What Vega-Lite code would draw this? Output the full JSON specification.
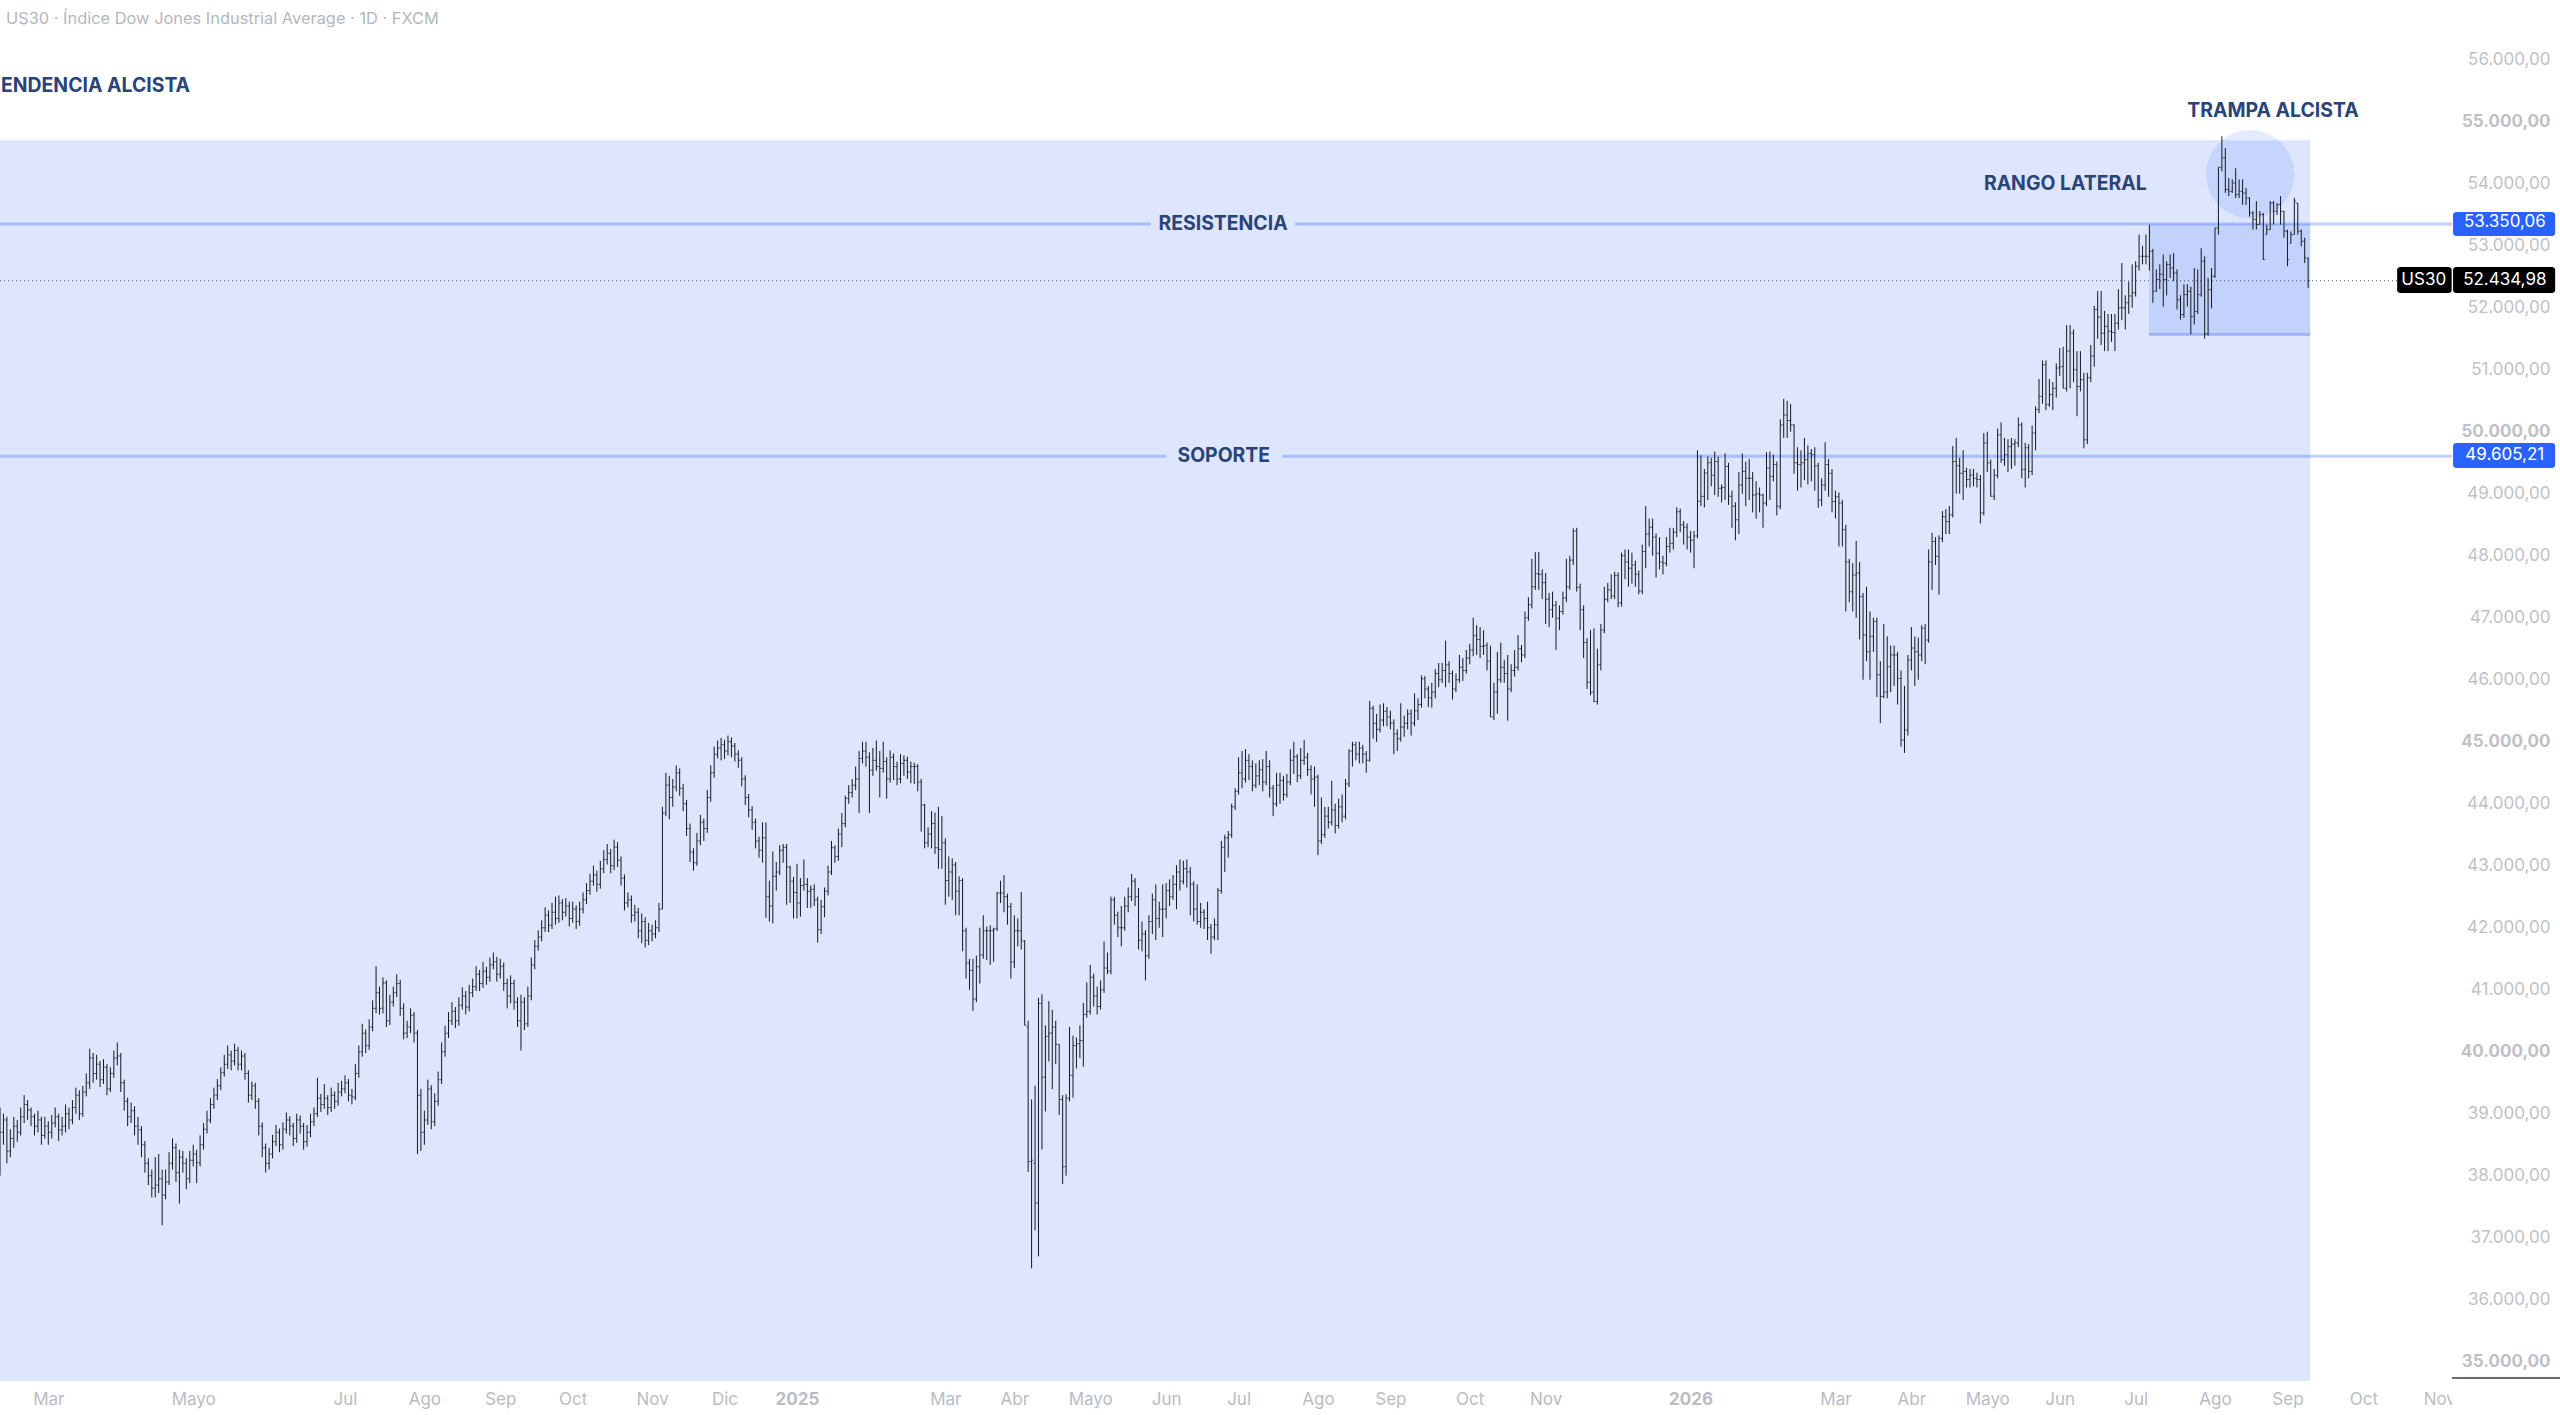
{
"$schema":"https://vega.github.io/schema/vega-lite/v6.json",
"width":2560,"height":1415,"padding":0,"autosize":"none","background":"white",
"config":{"view":{"stroke":null},"font":"Inter"},
"resolve":{"axis":{"x":"independent","y":"independent"}},
"datasets":{"bars":[
{"d":0,"o":38900,"h":39100,"l":38000,"c":38700},{"d":1,"o":38700,"h":39000,"l":38500,"c":38900},{"d":2,"o":38900,"h":38950,"l":38200,"c":38400},{"d":3,"o":38400,"h":38750,"l":38300,"c":38600},{"d":4,"o":38600,"h":38950,"l":38450,"c":38800},{"d":5,"o":38800,"h":38900,"l":38550,"c":38700},{"d":6,"o":38700,"h":39100,"l":38650,"c":38950},{"d":7,"o":38950,"h":39300,"l":38850,"c":39150},{"d":8,"o":39150,"h":39220,"l":38900,"c":39060},{"d":9,"o":39060,"h":39100,"l":38800,"c":38950},{"d":10,"o":38950,"h":39000,"l":38650,"c":38800},{"d":11,"o":38800,"h":39050,"l":38700,"c":38900},{"d":12,"o":38900,"h":38950,"l":38500,"c":38650},{"d":13,"o":38650,"h":38950,"l":38600,"c":38800},{"d":14,"o":38800,"h":38880,"l":38500,"c":38700},{"d":15,"o":38700,"h":38980,"l":38600,"c":38850},{"d":16,"o":38850,"h":39100,"l":38780,"c":38950},{"d":17,"o":38950,"h":39000,"l":38560,"c":38740},{"d":18,"o":38740,"h":38950,"l":38650,"c":38800},
{"d":19,"o":38800,"h":39150,"l":38700,"c":39000},{"d":20,"o":39000,"h":39100,"l":38750,"c":38900},{"d":21,"o":38900,"h":39220,"l":38830,"c":39100},{"d":22,"o":39100,"h":39420,"l":39000,"c":39300},{"d":23,"o":39300,"h":39380,"l":38900,"c":39000},{"d":24,"o":39000,"h":39450,"l":38950,"c":39350},{"d":25,"o":39350,"h":39650,"l":39280,"c":39500},{"d":26,"o":39500,"h":40050,"l":39400,"c":39900},{"d":27,"o":39900,"h":39980,"l":39500,"c":39650},{"d":28,"o":39650,"h":39950,"l":39550,"c":39800},{"d":29,"o":39800,"h":39850,"l":39430,"c":39550},{"d":30,"o":39550,"h":39880,"l":39480,"c":39750},{"d":31,"o":39750,"h":39800,"l":39300,"c":39400},{"d":32,"o":39400,"h":39750,"l":39350,"c":39650},{"d":33,"o":39650,"h":40020,"l":39580,"c":39900},{"d":34,"o":39900,"h":40150,"l":39780,"c":39930},
{"d":35,"o":39930,"h":39980,"l":39350,"c":39500},{"d":36,"o":39500,"h":39550,"l":39050,"c":39200},{"d":37,"o":39200,"h":39260,"l":38800,"c":38950},{"d":38,"o":38950,"h":39180,"l":38850,"c":39050},{"d":39,"o":39050,"h":39120,"l":38650,"c":38800},{"d":40,"o":38800,"h":38950,"l":38500,"c":38740},{"d":41,"o":38740,"h":38800,"l":38300,"c":38500},{"d":42,"o":38500,"h":38560,"l":38050,"c":38200},{"d":43,"o":38200,"h":38280,"l":37850,"c":38000},{"d":44,"o":38000,"h":38100,"l":37650,"c":37800},{"d":45,"o":37800,"h":38300,"l":37650,"c":37850},{"d":46,"o":37850,"h":38350,"l":37720,"c":37950},{"d":47,"o":37950,"h":38100,"l":37200,"c":37690},
{"d":48,"o":37690,"h":38100,"l":37620,"c":37900},{"d":49,"o":37900,"h":38380,"l":37850,"c":38200},{"d":50,"o":38200,"h":38600,"l":38100,"c":38450},{"d":51,"o":38450,"h":38520,"l":37900,"c":38050},{"d":52,"o":38050,"h":38420,"l":37550,"c":38300},{"d":53,"o":38300,"h":38400,"l":38050,"c":38200},{"d":54,"o":38200,"h":38280,"l":37780,"c":37950},{"d":55,"o":37950,"h":38400,"l":37880,"c":38250},{"d":56,"o":38250,"h":38500,"l":38150,"c":38350},{"d":57,"o":38350,"h":38420,"l":37880,"c":38210},
{"d":58,"o":38210,"h":38650,"l":38150,"c":38500},{"d":59,"o":38500,"h":38850,"l":38420,"c":38750},{"d":60,"o":38750,"h":39050,"l":38680,"c":38900},{"d":61,"o":38900,"h":39250,"l":38850,"c":39150},{"d":62,"o":39150,"h":39420,"l":39080,"c":39300},{"d":63,"o":39300,"h":39560,"l":39220,"c":39450},{"d":64,"o":39450,"h":39750,"l":39380,"c":39660},{"d":65,"o":39660,"h":39950,"l":39600,"c":39800},{"d":66,"o":39800,"h":40100,"l":39720,"c":39950},{"d":67,"o":39950,"h":40020,"l":39700,"c":39850},{"d":68,"o":39850,"h":40130,"l":39780,"c":40020},{"d":69,"o":40020,"h":40080,"l":39700,"c":39800},{"d":70,"o":39800,"h":40020,"l":39700,"c":39930},
{"d":71,"o":39930,"h":39980,"l":39550,"c":39650},{"d":72,"o":39650,"h":39700,"l":39180,"c":39300},{"d":73,"o":39300,"h":39520,"l":39220,"c":39450},{"d":74,"o":39450,"h":39500,"l":39080,"c":39200},{"d":75,"o":39200,"h":39250,"l":38650,"c":38800},{"d":76,"o":38800,"h":38860,"l":38300,"c":38450},{"d":77,"o":38450,"h":38520,"l":38050,"c":38200},{"d":78,"o":38200,"h":38450,"l":38100,"c":38350},
{"d":79,"o":38350,"h":38660,"l":38280,"c":38550},{"d":80,"o":38550,"h":38820,"l":38480,"c":38700},{"d":81,"o":38700,"h":38760,"l":38380,"c":38500},{"d":82,"o":38500,"h":38860,"l":38420,"c":38750},{"d":83,"o":38750,"h":39020,"l":38680,"c":38900},{"d":84,"o":38900,"h":38960,"l":38650,"c":38800},{"d":85,"o":38800,"h":38850,"l":38480,"c":38600},{"d":86,"o":38600,"h":39000,"l":38530,"c":38900},{"d":87,"o":38900,"h":38970,"l":38680,"c":38800},{"d":88,"o":38800,"h":38850,"l":38420,"c":38550},{"d":89,"o":38550,"h":38820,"l":38470,"c":38700},{"d":90,"o":38700,"h":39000,"l":38620,"c":38870},
{"d":91,"o":38870,"h":39100,"l":38800,"c":39000},{"d":92,"o":39000,"h":39580,"l":38950,"c":39250},{"d":93,"o":39250,"h":39320,"l":39030,"c":39150},{"d":94,"o":39150,"h":39480,"l":39080,"c":39250},{"d":95,"o":39250,"h":39300,"l":38980,"c":39100},{"d":96,"o":39100,"h":39420,"l":39030,"c":39300},{"d":97,"o":39300,"h":39360,"l":39080,"c":39200},{"d":98,"o":39200,"h":39500,"l":39130,"c":39350},{"d":99,"o":39350,"h":39530,"l":39280,"c":39400},{"d":100,"o":39400,"h":39620,"l":39330,"c":39500},{"d":101,"o":39500,"h":39560,"l":39200,"c":39300},{"d":102,"o":39300,"h":39400,"l":39150,"c":39270},
{"d":103,"o":39270,"h":39800,"l":39220,"c":39650},{"d":104,"o":39650,"h":40100,"l":39580,"c":40000},{"d":105,"o":40000,"h":40450,"l":39920,"c":40300},{"d":106,"o":40300,"h":40360,"l":39980,"c":40100},{"d":107,"o":40100,"h":40520,"l":40030,"c":40400},{"d":108,"o":40400,"h":40830,"l":40330,"c":40700},{"d":109,"o":40700,"h":41380,"l":40620,"c":40950},{"d":110,"o":40950,"h":41050,"l":40600,"c":40700},{"d":111,"o":40700,"h":41200,"l":40620,"c":41110},
{"d":112,"o":41110,"h":41150,"l":40400,"c":40500},{"d":113,"o":40500,"h":40920,"l":40430,"c":40800},{"d":114,"o":40800,"h":41050,"l":40730,"c":40950},{"d":115,"o":40950,"h":41250,"l":40880,"c":41100},{"d":116,"o":41100,"h":41160,"l":40580,"c":40700},{"d":117,"o":40700,"h":40780,"l":40200,"c":40300},{"d":118,"o":40300,"h":40500,"l":40220,"c":40400},{"d":119,"o":40400,"h":40700,"l":40300,"c":40590},
{"d":120,"o":40590,"h":40640,"l":40150,"c":40300},{"d":121,"o":40300,"h":40350,"l":38350,"c":39300},{"d":122,"o":39300,"h":39400,"l":38400,"c":38700},{"d":123,"o":38700,"h":39050,"l":38500,"c":38900},{"d":124,"o":38900,"h":39550,"l":38820,"c":39400},{"d":125,"o":39400,"h":39460,"l":38750,"c":38870},
{"d":126,"o":38870,"h":39330,"l":38800,"c":39200},{"d":127,"o":39200,"h":39680,"l":39130,"c":39550},{"d":128,"o":39550,"h":40150,"l":39480,"c":40000},{"d":129,"o":40000,"h":40420,"l":39920,"c":40300},{"d":130,"o":40300,"h":40640,"l":40220,"c":40500},{"d":131,"o":40500,"h":40800,"l":40430,"c":40650},{"d":132,"o":40650,"h":40720,"l":40380,"c":40500},{"d":133,"o":40500,"h":40880,"l":40420,"c":40750},{"d":134,"o":40750,"h":41040,"l":40680,"c":40900},{"d":135,"o":40900,"h":40980,"l":40600,"c":40720},
{"d":136,"o":40720,"h":41080,"l":40650,"c":40950},{"d":137,"o":40950,"h":41180,"l":40880,"c":41050},{"d":138,"o":41050,"h":41380,"l":40980,"c":41250},{"d":139,"o":41250,"h":41320,"l":40980,"c":41100},{"d":140,"o":41100,"h":41450,"l":41030,"c":41300},{"d":141,"o":41300,"h":41370,"l":41080,"c":41200},{"d":142,"o":41200,"h":41520,"l":41130,"c":41400},{"d":143,"o":41400,"h":41600,"l":41330,"c":41450},{"d":144,"o":41450,"h":41530,"l":41130,"c":41250},{"d":145,"o":41250,"h":41500,"l":41180,"c":41380},
{"d":146,"o":41380,"h":41440,"l":40980,"c":41100},{"d":147,"o":41100,"h":41180,"l":40700,"c":40900},{"d":148,"o":40900,"h":41230,"l":40780,"c":41100},{"d":149,"o":41100,"h":41160,"l":40680,"c":40800},{"d":150,"o":40800,"h":40880,"l":40400,"c":40500},{"d":151,"o":40500,"h":40920,"l":40020,"c":40800},{"d":152,"o":40800,"h":40880,"l":40350,"c":40450},
{"d":153,"o":40450,"h":41050,"l":40400,"c":40900},{"d":154,"o":40900,"h":41520,"l":40830,"c":41400},{"d":155,"o":41400,"h":41800,"l":41330,"c":41700},{"d":156,"o":41700,"h":41960,"l":41630,"c":41850},{"d":157,"o":41850,"h":42120,"l":41780,"c":42000},{"d":158,"o":42000,"h":42330,"l":41930,"c":42200},{"d":159,"o":42200,"h":42280,"l":41930,"c":42040},
{"d":160,"o":42040,"h":42400,"l":41980,"c":42250},{"d":161,"o":42250,"h":42500,"l":42050,"c":42150},{"d":162,"o":42150,"h":42520,"l":42080,"c":42400},{"d":163,"o":42400,"h":42460,"l":42120,"c":42250},{"d":164,"o":42250,"h":42480,"l":42180,"c":42350},{"d":165,"o":42350,"h":42420,"l":42020,"c":42150},{"d":166,"o":42150,"h":42420,"l":42080,"c":42300},
{"d":167,"o":42300,"h":42360,"l":41980,"c":42100},{"d":168,"o":42100,"h":42420,"l":42030,"c":42300},{"d":169,"o":42300,"h":42570,"l":42230,"c":42450},{"d":170,"o":42450,"h":42720,"l":42380,"c":42600},{"d":171,"o":42600,"h":42870,"l":42530,"c":42750},{"d":172,"o":42750,"h":43000,"l":42680,"c":42850},{"d":173,"o":42850,"h":42920,"l":42580,"c":42700},{"d":174,"o":42700,"h":43080,"l":42630,"c":42950},{"d":175,"o":42950,"h":43250,"l":42880,"c":43100},{"d":176,"o":43100,"h":43350,"l":43020,"c":43200},{"d":177,"o":43200,"h":43270,"l":42880,"c":43000},{"d":178,"o":43000,"h":43420,"l":42930,"c":43300},{"d":179,"o":43300,"h":43380,"l":42980,"c":43090},
{"d":180,"o":43090,"h":43150,"l":42680,"c":42800},{"d":181,"o":42800,"h":42860,"l":42280,"c":42400},{"d":182,"o":42400,"h":42570,"l":42330,"c":42450},{"d":183,"o":42450,"h":42520,"l":42080,"c":42200},{"d":184,"o":42200,"h":42370,"l":42100,"c":42250},{"d":185,"o":42250,"h":42320,"l":41830,"c":41950},{"d":186,"o":41950,"h":42230,"l":41750,"c":42100},{"d":187,"o":42100,"h":42170,"l":41680,"c":41800},{"d":188,"o":41800,"h":42080,"l":41720,"c":41950},{"d":189,"o":41950,"h":42050,"l":41780,"c":41900},
{"d":190,"o":41900,"h":42120,"l":41830,"c":42000},{"d":191,"o":42000,"h":42400,"l":41930,"c":42300},{"d":192,"o":42300,"h":43950,"l":42300,"c":43850},{"d":193,"o":43850,"h":44500,"l":43800,"c":44300},{"d":194,"o":44300,"h":44450,"l":43750,"c":44100},{"d":195,"o":44100,"h":44400,"l":43950,"c":44270},
{"d":196,"o":44270,"h":44620,"l":44200,"c":44500},{"d":197,"o":44500,"h":44570,"l":44130,"c":44250},{"d":198,"o":44250,"h":44320,"l":43880,"c":44000},{"d":199,"o":44000,"h":44060,"l":43480,"c":43600},{"d":200,"o":43600,"h":43680,"l":43060,"c":43220},
{"d":201,"o":43220,"h":43280,"l":42920,"c":43050},{"d":202,"o":43050,"h":43530,"l":43000,"c":43400},{"d":203,"o":43400,"h":43820,"l":43330,"c":43700},{"d":204,"o":43700,"h":43760,"l":43400,"c":43600},{"d":205,"o":43600,"h":44220,"l":43530,"c":44100},{"d":206,"o":44100,"h":44620,"l":44030,"c":44500},{"d":207,"o":44500,"h":44920,"l":44420,"c":44800},
{"d":208,"o":44800,"h":45020,"l":44730,"c":44900},{"d":209,"o":44900,"h":45060,"l":44700,"c":44950},{"d":210,"o":44950,"h":45030,"l":44720,"c":44850},{"d":211,"o":44850,"h":45100,"l":44780,"c":45000},{"d":212,"o":45000,"h":45070,"l":44750,"c":44930},
{"d":213,"o":44930,"h":44980,"l":44680,"c":44800},{"d":214,"o":44800,"h":44860,"l":44580,"c":44700},{"d":215,"o":44700,"h":44750,"l":44280,"c":44400},{"d":216,"o":44400,"h":44460,"l":43980,"c":44100},{"d":217,"o":44100,"h":44160,"l":43780,"c":43900},{"d":218,"o":43900,"h":43960,"l":43580,"c":43700},{"d":219,"o":43700,"h":43760,"l":43280,"c":43400},{"d":220,"o":43400,"h":43470,"l":43130,"c":43250},{"d":221,"o":43250,"h":43700,"l":43050,"c":43450},{"d":222,"o":43450,"h":43700,"l":42160,"c":42500},{"d":223,"o":42500,"h":42760,"l":42100,"c":42350},
{"d":224,"o":42350,"h":43230,"l":42070,"c":42830},{"d":225,"o":42830,"h":43060,"l":42600,"c":42900},{"d":226,"o":42900,"h":43330,"l":42850,"c":43250},{"d":227,"o":43250,"h":43350,"l":43050,"c":43300},{"d":228,"o":43300,"h":43350,"l":42370,"c":42980},{"d":229,"o":42980,"h":43000,"l":42400,"c":42750},{"d":230,"o":42750,"h":42820,"l":42150,"c":42570},{"d":231,"o":42570,"h":43030,"l":42150,"c":42400},{"d":232,"o":42400,"h":42800,"l":42180,"c":42680},{"d":233,"o":42680,"h":43100,"l":42600,"c":42700},{"d":234,"o":42700,"h":42800,"l":42320,"c":42590},{"d":235,"o":42590,"h":42680,"l":42320,"c":42620},{"d":236,"o":42620,"h":42700,"l":42350,"c":42450},{"d":237,"o":42450,"h":42500,"l":41760,"c":41970},{"d":238,"o":41970,"h":42450,"l":41900,"c":42340},{"d":239,"o":42340,"h":42650,"l":42170,"c":42590},{"d":240,"o":42590,"h":43000,"l":42520,"c":42900},{"d":241,"o":42900,"h":43400,"l":42850,"c":43290},{"d":242,"o":43290,"h":43330,"l":43050,"c":43150},{"d":243,"o":43150,"h":43600,"l":43080,"c":43510},{"d":244,"o":43510,"h":43850,"l":43300,"c":43680},{"d":245,"o":43680,"h":44130,"l":43620,"c":44090},{"d":246,"o":44090,"h":44300,"l":44000,"c":44180},{"d":247,"o":44180,"h":44400,"l":44100,"c":44300},{"d":248,"o":44300,"h":44600,"l":44220,"c":44400},{"d":249,"o":44400,"h":44850,"l":43850,"c":44730},{"d":250,"o":44730,"h":45000,"l":44650,"c":44850},{"d":251,"o":44850,"h":45000,"l":44600,"c":44750},{"d":252,"o":44750,"h":44830,"l":43850,"c":44540},{"d":253,"o":44540,"h":44900,"l":44450,"c":44700},{"d":254,"o":44700,"h":45020,"l":44530,"c":44600},{"d":255,"o":44600,"h":44850,"l":44100,"c":44570},{"d":256,"o":44570,"h":45000,"l":44500,"c":44680},{"d":257,"o":44680,"h":44750,"l":44080,"c":44400},{"d":258,"o":44400,"h":44860,"l":44340,"c":44750},{"d":259,"o":44750,"h":44810,"l":44380,"c":44600},{"d":260,"o":44600,"h":44680,"l":44300,"c":44400},{"d":261,"o":44400,"h":44800,"l":44330,"c":44650},{"d":262,"o":44650,"h":44780,"l":44450,"c":44700},{"d":263,"o":44700,"h":44760,"l":44400,"c":44510},{"d":264,"o":44510,"h":44680,"l":44330,"c":44600},{"d":265,"o":44600,"h":44660,"l":44320,"c":44600},{"d":266,"o":44600,"h":44640,"l":44200,"c":44350},{"d":267,"o":44350,"h":44400,"l":43550,"c":43980},{"d":268,"o":43980,"h":44000,"l":43280,"c":43370},{"d":269,"o":43370,"h":43620,"l":43300,"c":43510},{"d":270,"o":43510,"h":43880,"l":43280,"c":43680},{"d":271,"o":43680,"h":43860,"l":43190,"c":43290},{"d":272,"o":43290,"h":43950,"l":42950,"c":43260},{"d":273,"o":43260,"h":43800,"l":42950,"c":43370},{"d":274,"o":43370,"h":43440,"l":42370,"c":42760},{"d":275,"o":42760,"h":43150,"l":42500,"c":42900},{"d":276,"o":42900,"h":43120,"l":42450,"c":43010},{"d":277,"o":43010,"h":43060,"l":42200,"c":42590},{"d":278,"o":42590,"h":42830,"l":42200,"c":42760},{"d":279,"o":42760,"h":42800,"l":41620,"c":41950},{"d":280,"o":41950,"h":42000,"l":41180,"c":41430},{"d":281,"o":41430,"h":41500,"l":41000,"c":41310},{"d":282,"o":41310,"h":41500,"l":40660,"c":40850},{"d":283,"o":40850,"h":41550,"l":40800,"c":41370},{"d":284,"o":41370,"h":42000,"l":41100,"c":41560},{"d":285,"o":41560,"h":42200,"l":41500,"c":41950},{"d":286,"o":41950,"h":42020,"l":41480,"c":41950},{"d":287,"o":41950,"h":42040,"l":41400,"c":41950},{"d":288,"o":41950,"h":42000,"l":41450,"c":41980},{"d":289,"o":41980,"h":42580,"l":41950,"c":42560},{"d":290,"o":42560,"h":42760,"l":42400,"c":42560},{"d":291,"o":42560,"h":42850,"l":42250,"c":42500},{"d":292,"o":42500,"h":42550,"l":42050,"c":42340},{"d":293,"o":42340,"h":42400,"l":41180,"c":41450},{"d":294,"o":41450,"h":42200,"l":41350,"c":41950},{"d":295,"o":41950,"h":42150,"l":41700,"c":41950},{"d":296,"o":41950,"h":42577,"l":41650,"c":41800},
{"d":297,"o":41777,"h":41800,"l":40426,"c":40430},{"d":298,"o":40400,"h":40500,"l":38063,"c":38230},{"d":299,"o":38230,"h":39230,"l":36506,"c":38250},{"d":300,"o":38200,"h":39453,"l":37118,"c":37562},{"d":301,"o":37562,"h":40870,"l":36700,"c":40780},{"d":302,"o":40780,"h":40926,"l":38424,"c":39590},{"d":303,"o":39590,"h":40426,"l":39036,"c":40250},{"d":304,"o":40250,"h":40815,"l":39842,"c":40300},{"d":305,"o":40300,"h":40676,"l":39397,"c":40400},{"d":306,"o":40400,"h":40500,"l":39800,"c":40120},{"d":307,"o":40120,"h":40120,"l":38980,"c":39230},{"d":308,"o":39230,"h":39300,"l":37868,"c":38146},{"d":309,"o":38146,"h":39314,"l":38000,"c":39250},{"d":310,"o":39250,"h":40398,"l":39200,"c":39620},{"d":311,"o":39620,"h":40259,"l":39258,"c":40100},{"d":312,"o":40100,"h":40231,"l":39731,"c":40130},{"d":313,"o":40130,"h":40426,"l":39897,"c":40180},
{"d":314,"o":40180,"h":40787,"l":39759,"c":40600},{"d":315,"o":40600,"h":41120,"l":40550,"c":40650},{"d":316,"o":40650,"h":41400,"l":40600,"c":41200},{"d":317,"o":41200,"h":41260,"l":40730,"c":40900},{"d":318,"o":40900,"h":41050,"l":40600,"c":40730},{"d":319,"o":40730,"h":41150,"l":40680,"c":41000},{"d":320,"o":41000,"h":41780,"l":40950,"c":41350},{"d":321,"o":41350,"h":41600,"l":41250,"c":41300},{"d":322,"o":41300,"h":42500,"l":41250,"c":42450},{"d":323,"o":42450,"h":42500,"l":42050,"c":42200},{"d":324,"o":42200,"h":42260,"l":41850,"c":42000},{"d":325,"o":42000,"h":42350,"l":41700,"c":42000},{"d":326,"o":42000,"h":42500,"l":41950,"c":42350},{"d":327,"o":42350,"h":42650,"l":42250,"c":42500},{"d":328,"o":42500,"h":42870,"l":42430,"c":42750},{"d":329,"o":42750,"h":42800,"l":42350,"c":42500},{"d":330,"o":42500,"h":42640,"l":41650,"c":41800},{"d":331,"o":41800,"h":42100,"l":41620,"c":41900},{"d":332,"o":41900,"h":41960,"l":41150,"c":41550},{"d":333,"o":41550,"h":42200,"l":41500,"c":42100},{"d":334,"o":42100,"h":42550,"l":41900,"c":42450},{"d":335,"o":42450,"h":42700,"l":41800,"c":42150},{"d":336,"o":42150,"h":42420,"l":42000,"c":42300},{"d":337,"o":42300,"h":42700,"l":41850,"c":42300},{"d":338,"o":42300,"h":42720,"l":42150,"c":42600},{"d":339,"o":42600,"h":42780,"l":42350,"c":42500},{"d":340,"o":42500,"h":42850,"l":42450,"c":42700},{"d":341,"o":42700,"h":43010,"l":42300,"c":42900},{"d":342,"o":42900,"h":43100,"l":42600,"c":42750},{"d":343,"o":42750,"h":43080,"l":42700,"c":42950},{"d":344,"o":42950,"h":43100,"l":42650,"c":42900},{"d":345,"o":42900,"h":42980,"l":42200,"c":42700},{"d":346,"o":42700,"h":42750,"l":42100,"c":42300},{"d":347,"o":42300,"h":42700,"l":42050,"c":42100},{"d":348,"o":42100,"h":42400,"l":42000,"c":42250},{"d":349,"o":42250,"h":42300,"l":41980,"c":42150},{"d":350,"o":42150,"h":42420,"l":41800,"c":42000},{"d":351,"o":42000,"h":42060,"l":41580,"c":41850},{"d":352,"o":41850,"h":42150,"l":41800,"c":42050},{"d":353,"o":42050,"h":42640,"l":41800,"c":42600},{"d":354,"o":42600,"h":43400,"l":42550,"c":43300},{"d":355,"o":43300,"h":43500,"l":42900,"c":43450},{"d":356,"o":43450,"h":43560,"l":43130,"c":43500},{"d":357,"o":43500,"h":44000,"l":43450,"c":43950},{"d":358,"o":43950,"h":44250,"l":43900,"c":44200},{"d":359,"o":44200,"h":44750,"l":44150,"c":44500},{"d":360,"o":44500,"h":44850,"l":44250,"c":44400},{"d":361,"o":44400,"h":44880,"l":44340,"c":44700},{"d":362,"o":44700,"h":44800,"l":44380,"c":44600},{"d":363,"o":44600,"h":44700,"l":44200,"c":44300},{"d":364,"o":44300,"h":44650,"l":44250,"c":44450},{"d":365,"o":44450,"h":44700,"l":44300,"c":44550},{"d":366,"o":44550,"h":44720,"l":44200,"c":44350},{"d":367,"o":44350,"h":44850,"l":44300,"c":44600},{"d":368,"o":44600,"h":44700,"l":44100,"c":44250},{"d":369,"o":44250,"h":44300,"l":43800,"c":44000},{"d":370,"o":44000,"h":44500,"l":43950,"c":44300},
{"d":371,"o":44300,"h":44500,"l":44000,"c":44376},{"d":372,"o":44376,"h":44450,"l":44050,"c":44150},{"d":373,"o":44150,"h":44480,"l":44100,"c":44350},{"d":374,"o":44350,"h":44880,"l":44300,"c":44700},{"d":375,"o":44700,"h":45000,"l":44480,"c":44760},{"d":376,"o":44760,"h":44800,"l":44350,"c":44450},{"d":377,"o":44450,"h":44900,"l":44400,"c":44700},{"d":378,"o":44700,"h":45030,"l":44630,"c":44750},{"d":379,"o":44750,"h":44820,"l":44450,"c":44550},{"d":380,"o":44550,"h":44620,"l":44150,"c":44400},{"d":381,"o":44400,"h":44600,"l":43950,"c":44430},{"d":382,"o":44430,"h":44470,"l":43170,"c":43400},{"d":383,"o":43400,"h":44100,"l":43350,"c":43500},{"d":384,"o":43500,"h":43950,"l":43450,"c":43800},{"d":385,"o":43800,"h":43950,"l":43600,"c":43700},{"d":386,"o":43700,"h":44370,"l":43650,"c":43900},{"d":387,"o":43900,"h":44000,"l":43520,"c":43650},{"d":388,"o":43650,"h":44080,"l":43600,"c":43950},{"d":389,"o":43950,"h":44150,"l":43700,"c":43800},{"d":390,"o":43800,"h":44400,"l":43750,"c":44320},{"d":391,"o":44320,"h":44880,"l":44270,"c":44850},{"d":392,"o":44850,"h":45000,"l":44600,"c":44950},{"d":393,"o":44950,"h":45000,"l":44700,"c":44800},{"d":394,"o":44800,"h":45000,"l":44650,"c":44900},{"d":395,"o":44900,"h":44950,"l":44650,"c":44800},{"d":396,"o":44800,"h":44850,"l":44500,"c":44700},{"d":397,"o":44700,"h":45660,"l":44680,"c":45540},{"d":398,"o":45540,"h":45580,"l":45050,"c":45300},{"d":399,"o":45300,"h":45450,"l":45000,"c":45200},{"d":400,"o":45200,"h":45600,"l":45150,"c":45350},{"d":401,"o":45350,"h":45620,"l":45250,"c":45490},{"d":402,"o":45490,"h":45560,"l":45250,"c":45400},{"d":403,"o":45400,"h":45500,"l":45200,"c":45300},{"d":404,"o":45300,"h":45360,"l":44800,"c":45126},{"d":405,"o":45126,"h":45200,"l":44850,"c":45050},{"d":406,"o":45050,"h":45620,"l":45000,"c":45237},{"d":407,"o":45237,"h":45420,"l":45080,"c":45300},{"d":408,"o":45300,"h":45520,"l":45200,"c":45450},{"d":409,"o":45450,"h":45520,"l":45100,"c":45300},{"d":410,"o":45300,"h":45780,"l":45250,"c":45500},{"d":411,"o":45500,"h":45700,"l":45350,"c":45600},{"d":412,"o":45600,"h":46070,"l":45550,"c":46015},{"d":413,"o":46015,"h":46060,"l":45700,"c":45850},{"d":414,"o":45850,"h":45900,"l":45560,"c":45710},{"d":415,"o":45710,"h":45950,"l":45550,"c":45800},{"d":416,"o":45800,"h":46170,"l":45700,"c":46100},{"d":417,"o":46100,"h":46270,"l":45880,"c":46000},{"d":418,"o":46000,"h":46270,"l":45950,"c":46150},{"d":419,"o":46150,"h":46630,"l":45880,"c":46240},{"d":420,"o":46240,"h":46300,"l":45950,"c":46100},{"d":421,"o":46100,"h":46150,"l":45680,"c":45850},{"d":422,"o":45850,"h":46100,"l":45800,"c":46000},{"d":423,"o":46000,"h":46400,"l":45950,"c":46200},{"d":424,"o":46200,"h":46350,"l":45980,"c":46150},{"d":425,"o":46150,"h":46480,"l":46100,"c":46350},{"d":426,"o":46350,"h":46580,"l":46250,"c":46480},{"d":427,"o":46480,"h":47000,"l":46380,"c":46710},{"d":428,"o":46710,"h":46880,"l":46400,"c":46650},{"d":429,"o":46650,"h":46850,"l":46350,"c":46540},{"d":430,"o":46540,"h":46800,"l":46400,"c":46550},{"d":431,"o":46550,"h":46600,"l":46150,"c":46300},{"d":432,"o":46300,"h":46550,"l":45400,"c":45400},{"d":433,"o":45400,"h":45950,"l":45350,"c":45800},{"d":434,"o":45800,"h":46450,"l":45450,"c":46000},{"d":435,"o":46000,"h":46600,"l":45950,"c":46200},{"d":436,"o":46200,"h":46320,"l":45950,"c":46100},{"d":437,"o":46100,"h":46400,"l":45340,"c":45850},{"d":438,"o":45850,"h":46250,"l":45800,"c":46150},{"d":439,"o":46150,"h":46480,"l":46050,"c":46200},{"d":440,"o":46200,"h":46720,"l":46150,"c":46500},{"d":441,"o":46500,"h":46560,"l":46280,"c":46400},{"d":442,"o":46400,"h":47100,"l":46350,"c":47000},{"d":443,"o":47000,"h":47330,"l":46950,"c":47210},{"d":444,"o":47210,"h":47950,"l":47150,"c":47500},{"d":445,"o":47500,"h":48060,"l":47450,"c":47710},{"d":446,"o":47710,"h":48060,"l":47450,"c":47700},{"d":447,"o":47700,"h":47780,"l":47300,"c":47570},{"d":448,"o":47570,"h":47720,"l":46900,"c":47300},{"d":449,"o":47300,"h":47400,"l":46850,"c":47130},{"d":450,"o":47130,"h":47420,"l":47000,"c":47200},{"d":451,"o":47200,"h":47270,"l":46480,"c":46990},{"d":452,"o":46990,"h":47200,"l":46800,"c":47100},{"d":453,"o":47100,"h":47420,"l":47050,"c":47320},{"d":454,"o":47320,"h":47950,"l":47250,"c":47500},{"d":455,"o":47500,"h":48000,"l":47450,"c":47930},{"d":456,"o":47930,"h":48440,"l":47850,"c":48400},{"d":457,"o":48400,"h":48450,"l":47420,"c":47490},{"d":458,"o":47490,"h":47550,"l":46800,"c":47130},{"d":459,"o":47130,"h":47200,"l":46350,"c":46600},{"d":460,"o":46600,"h":46670,"l":45850,"c":45960},{"d":461,"o":45960,"h":46800,"l":45750,"c":45800},{"d":462,"o":45800,"h":46830,"l":45640,"c":45650},{"d":463,"o":45650,"h":46500,"l":45600,"c":46240},{"d":464,"o":46240,"h":46900,"l":46150,"c":46800},{"d":465,"o":46800,"h":47500,"l":46750,"c":47300},{"d":466,"o":47300,"h":47560,"l":47250,"c":47450},{"d":467,"o":47450,"h":47700,"l":47300,"c":47350},{"d":468,"o":47350,"h":47740,"l":47300,"c":47680},{"d":469,"o":47680,"h":47730,"l":47170,"c":47240},{"d":470,"o":47240,"h":48050,"l":47180,"c":48000},{"d":471,"o":48000,"h":48100,"l":47620,"c":47900},{"d":472,"o":47900,"h":48100,"l":47500,"c":47800},{"d":473,"o":47800,"h":48050,"l":47550,"c":47850},{"d":474,"o":47850,"h":47920,"l":47500,"c":47700},{"d":475,"o":47700,"h":47760,"l":47380,"c":47430},{"d":476,"o":47430,"h":48180,"l":47380,"c":48070},{"d":477,"o":48070,"h":48800,"l":47800,"c":48350},{"d":478,"o":48350,"h":48600,"l":48150,"c":48460},{"d":479,"o":48460,"h":48600,"l":48000,"c":48300},{"d":480,"o":48300,"h":48360,"l":47650,"c":48040},{"d":481,"o":48040,"h":48300,"l":47780,"c":47900},{"d":482,"o":47900,"h":48000,"l":47700,"c":47880},{"d":483,"o":47880,"h":48300,"l":47830,"c":48150},{"d":484,"o":48150,"h":48450,"l":48050,"c":48200},{"d":485,"o":48200,"h":48450,"l":48100,"c":48380},{"d":486,"o":48380,"h":48780,"l":48300,"c":48710},{"d":487,"o":48710,"h":48760,"l":48380,"c":48500},{"d":488,"o":48500,"h":48560,"l":48180,"c":48460},{"d":489,"o":48460,"h":48520,"l":48100,"c":48300},{"d":490,"o":48300,"h":48400,"l":48050,"c":48250},{"d":491,"o":48250,"h":48400,"l":47800,"c":48320},{"d":492,"o":48320,"h":49700,"l":48280,"c":48880},
{"d":493,"o":48880,"h":49620,"l":48800,"c":48957},{"d":494,"o":48957,"h":49400,"l":48780,"c":49333},{"d":495,"o":49333,"h":49600,"l":48900,"c":49500},{"d":496,"o":49500,"h":49580,"l":49120,"c":49300},{"d":497,"o":49300,"h":49680,"l":48980,"c":49520},{"d":498,"o":49520,"h":49600,"l":48950,"c":49090},{"d":499,"o":49090,"h":49150,"l":48860,"c":49100},{"d":500,"o":49100,"h":49650,"l":48900,"c":49440},{"d":501,"o":49440,"h":49500,"l":48820,"c":48960},{"d":502,"o":48960,"h":49050,"l":48450,"c":48800},{"d":503,"o":48800,"h":48860,"l":48250,"c":48580},{"d":504,"o":48580,"h":49350,"l":48350,"c":49140},{"d":505,"o":49140,"h":49650,"l":49000,"c":49360},{"d":506,"o":49360,"h":49520,"l":48800,"c":49250},{"d":507,"o":49250,"h":49560,"l":48900,"c":49250},{"d":508,"o":49250,"h":49350,"l":48700,"c":48980},{"d":509,"o":48980,"h":49200,"l":48600,"c":49000},{"d":510,"o":49000,"h":49100,"l":48700,"c":48980},{"d":511,"o":48980,"h":49000,"l":48450,"c":48850},{"d":512,"o":48850,"h":49670,"l":48800,"c":49414},{"d":513,"o":49414,"h":49680,"l":48900,"c":49280},{"d":514,"o":49280,"h":49630,"l":49200,"c":49470},{"d":515,"o":49470,"h":49520,"l":48650,"c":48800},{"d":516,"o":48800,"h":50200,"l":48750,"c":50110},{"d":517,"o":50110,"h":50530,"l":49900,"c":50270},{"d":518,"o":50270,"h":50500,"l":49900,"c":50180},{"d":519,"o":50180,"h":50450,"l":50000,"c":50110},{"d":520,"o":50110,"h":50120,"l":49320,"c":49500},{"d":521,"o":49500,"h":49750,"l":49050,"c":49470},{"d":522,"o":49470,"h":49700,"l":49100,"c":49500},{"d":523,"o":49500,"h":49900,"l":49220,"c":49550},{"d":524,"o":49550,"h":49780,"l":49150,"c":49650},{"d":525,"o":49650,"h":49720,"l":49200,"c":49630},{"d":526,"o":49630,"h":49750,"l":49050,"c":49450},{"d":527,"o":49450,"h":49500,"l":48770,"c":48900},{"d":528,"o":48900,"h":49250,"l":48800,"c":49140},{"d":529,"o":49140,"h":49830,"l":49050,"c":49470},{"d":530,"o":49470,"h":49560,"l":48950,"c":49330},{"d":531,"o":49330,"h":49400,"l":48700,"c":48875},{"d":532,"o":48875,"h":49050,"l":48600,"c":48950},{"d":533,"o":48950,"h":49020,"l":48150,"c":48850},{"d":534,"o":48850,"h":48900,"l":48150,"c":48420},{"d":535,"o":48420,"h":48500,"l":47100,"c":47900},{"d":536,"o":47900,"h":47950,"l":47250,"c":47420},{"d":537,"o":47420,"h":47880,"l":47100,"c":47690},{"d":538,"o":47690,"h":48240,"l":47000,"c":47720},{"d":539,"o":47720,"h":47900,"l":46650,"c":47340},{"d":540,"o":47340,"h":47400,"l":46000,"c":46720},{"d":541,"o":46720,"h":47500,"l":46300,"c":46450},{"d":542,"o":46450,"h":47100,"l":46000,"c":46700},{"d":543,"o":46700,"h":47000,"l":46450,"c":46940},{"d":544,"o":46940,"h":47000,"l":45720,"c":46080},{"d":545,"o":46080,"h":46300,"l":45300,"c":45730},{"d":546,"o":45730,"h":46900,"l":45700,"c":45800},{"d":547,"o":45800,"h":46700,"l":45700,"c":46210},{"d":548,"o":46210,"h":46550,"l":45800,"c":46400},{"d":549,"o":46400,"h":46550,"l":45900,"c":46400},{"d":550,"o":46400,"h":46450,"l":45600,"c":46020},{"d":551,"o":46020,"h":46150,"l":44920,"c":45030},{"d":552,"o":45030,"h":45900,"l":44820,"c":45190},{"d":553,"o":45190,"h":46400,"l":45100,"c":46320},{"d":554,"o":46320,"h":46850,"l":46150,"c":46510},{"d":555,"o":46510,"h":46700,"l":45900,"c":46450},{"d":556,"o":46450,"h":46680,"l":46000,"c":46400},{"d":557,"o":46400,"h":46880,"l":46300,"c":46830},{"d":558,"o":46830,"h":46900,"l":46250,"c":46640},{"d":559,"o":46640,"h":48100,"l":46600,"c":47900},{"d":560,"o":47900,"h":48370,"l":47450,"c":48230},{"d":561,"o":48230,"h":48300,"l":47850,"c":47990},{"d":562,"o":47990,"h":48330,"l":47370,"c":48280},{"d":563,"o":48280,"h":48720,"l":48220,"c":48630},{"d":564,"o":48630,"h":48750,"l":48350,"c":48550},{"d":565,"o":48550,"h":48800,"l":48350,"c":48660},{"d":566,"o":48660,"h":49770,"l":48620,"c":49520},{"d":567,"o":49520,"h":49900,"l":49000,"c":49450},{"d":568,"o":49450,"h":49580,"l":49000,"c":49330},{"d":569,"o":49330,"h":49700,"l":48900,"c":49360},{"d":570,"o":49360,"h":49420,"l":49100,"c":49230},{"d":571,"o":49230,"h":49400,"l":49100,"c":49300},{"d":572,"o":49300,"h":49400,"l":49120,"c":49250},{"d":573,"o":49250,"h":49340,"l":49100,"c":49230},{"d":574,"o":49230,"h":49300,"l":48520,"c":48690},{"d":575,"o":48690,"h":49980,"l":48650,"c":49820},{"d":576,"o":49820,"h":50000,"l":49350,"c":49500},{"d":577,"o":49500,"h":49550,"l":48950,"c":48960},{"d":578,"o":48960,"h":49400,"l":48900,"c":49300},{"d":579,"o":49300,"h":50050,"l":49250,"c":49950},{"d":580,"o":49950,"h":50150,"l":49500,"c":49550},{"d":581,"o":49550,"h":49900,"l":49450,"c":49630},{"d":582,"o":49630,"h":49880,"l":49350,"c":49760},{"d":583,"o":49760,"h":49900,"l":49400,"c":49800},{"d":584,"o":49800,"h":49880,"l":49450,"c":49820},{"d":585,"o":49820,"h":50230,"l":49750,"c":50110},{"d":586,"o":50110,"h":50150,"l":49250,"c":49390},{"d":587,"o":49390,"h":49820,"l":49100,"c":49740},{"d":588,"o":49740,"h":49800,"l":49250,"c":49360},{"d":589,"o":49360,"h":50100,"l":49300,"c":49980},{"d":590,"o":49980,"h":50410,"l":49700,"c":50360},{"d":591,"o":50360,"h":50850,"l":50300,"c":50570},{"d":592,"o":50570,"h":51150,"l":50450,"c":51080},{"d":593,"o":51080,"h":51150,"l":50350,"c":50440},{"d":594,"o":50440,"h":50850,"l":50400,"c":50600},{"d":595,"o":50600,"h":50800,"l":50350,"c":50700},{"d":596,"o":50700,"h":51100,"l":50550,"c":51030},{"d":597,"o":51030,"h":51350,"l":50900,"c":51050},{"d":598,"o":51050,"h":51370,"l":50700,"c":50700},{"d":599,"o":50700,"h":51720,"l":50650,"c":51300},{"d":600,"o":51300,"h":51720,"l":50700,"c":51590},{"d":601,"o":51590,"h":51650,"l":50800,"c":51000},{"d":602,"o":51000,"h":51300,"l":50250,"c":50730},{"d":603,"o":50730,"h":51300,"l":50650,"c":50840},{"d":604,"o":50840,"h":50950,"l":49730,"c":49870},{"d":605,"o":49870,"h":50950,"l":49800,"c":50870},{"d":606,"o":50870,"h":51400,"l":50800,"c":51220},{"d":607,"o":51220,"h":52030,"l":51050,"c":51970},{"d":608,"o":51970,"h":52270,"l":51500,"c":51850},{"d":609,"o":51850,"h":52270,"l":51400,"c":51590},{"d":610,"o":51590,"h":51950,"l":51300,"c":51700},{"d":611,"o":51700,"h":51900,"l":51300,"c":51620},{"d":612,"o":51620,"h":51900,"l":51450,"c":51600},{"d":613,"o":51600,"h":51900,"l":51300,"c":51750},{"d":614,"o":51750,"h":52300,"l":51650,"c":52000},{"d":615,"o":52000,"h":52720,"l":51800,"c":52000},{"d":616,"o":52000,"h":52200,"l":51650,"c":52080},{"d":617,"o":52080,"h":52420,"l":51900,"c":52190},{"d":618,"o":52190,"h":52700,"l":52000,"c":52240},{"d":619,"o":52240,"h":52750,"l":52180,"c":52670},{"d":620,"o":52670,"h":53180,"l":52600,"c":52830},{"d":621,"o":52830,"h":53000,"l":52700,"c":52830},{"d":622,"o":52830,"h":53180,"l":52700,"c":52830},
{"d":623,"o":52830,"h":53341,"l":52600,"c":52910},{"d":624,"o":52910,"h":52950,"l":52078,"c":52266},{"d":625,"o":52266,"h":52620,"l":52260,"c":52454},{"d":626,"o":52454,"h":52700,"l":52300,"c":52540},{"d":627,"o":52540,"h":52860,"l":52020,"c":52454},{"d":628,"o":52454,"h":52750,"l":52200,"c":52696},{"d":629,"o":52696,"h":52860,"l":52480,"c":52640},{"d":630,"o":52640,"h":52880,"l":52430,"c":52560},{"d":631,"o":52560,"h":52620,"l":51970,"c":52130},{"d":632,"o":52130,"h":52200,"l":51810,"c":51890},{"d":633,"o":51890,"h":52380,"l":51840,"c":52212},{"d":634,"o":52212,"h":52380,"l":52020,"c":52266},{"d":635,"o":52266,"h":52340,"l":51570,"c":51860},{"d":636,"o":51860,"h":52640,"l":51730,"c":51940},{"d":637,"o":51940,"h":52620,"l":51900,"c":52212},{"d":638,"o":52212,"h":52960,"l":52180,"c":52750},{"d":639,"o":52750,"h":52830,"l":51500,"c":51578},{"d":640,"o":51578,"h":52480,"l":51550,"c":52290},{"d":641,"o":52290,"h":52640,"l":51990,"c":52508},{"d":642,"o":52508,"h":53290,"l":52480,"c":53288},{"d":643,"o":53288,"h":54266,"l":53180,"c":54266},{"d":644,"o":54266,"h":54766,"l":54200,"c":54417},{"d":645,"o":54417,"h":54578,"l":53850,"c":53906},{"d":646,"o":53906,"h":54090,"l":53800,"c":53879},{"d":647,"o":53879,"h":54070,"l":53850,"c":54013},{"d":648,"o":54013,"h":54250,"l":53770,"c":53825},{"d":649,"o":53825,"h":54070,"l":53770,"c":53879},{"d":650,"o":53879,"h":54070,"l":53660,"c":53850},{"d":651,"o":53850,"h":53930,"l":53660,"c":53771},{"d":652,"o":53771,"h":53780,"l":53470,"c":53530},{"d":653,"o":53530,"h":53560,"l":53260,"c":53422},{"d":654,"o":53422,"h":53720,"l":53260,"c":53341},{"d":655,"o":53341,"h":53560,"l":53340,"c":53503},{"d":656,"o":53503,"h":53530,"l":52770,"c":52777},{"d":657,"o":53180,"h":53340,"l":53180,"c":53260},{"d":658,"o":53260,"h":53720,"l":53260,"c":53690},{"d":659,"o":53690,"h":53720,"l":53340,"c":53556},{"d":660,"o":53556,"h":53690,"l":53500,"c":53664},{"d":661,"o":53664,"h":53800,"l":53340,"c":53556},{"d":662,"o":53556,"h":53560,"l":53130,"c":53234},{"d":663,"o":53234,"h":53260,"l":52670,"c":52777},{"d":664,"o":53040,"h":53230,"l":53040,"c":53180},{"d":665,"o":53180,"h":53770,"l":53180,"c":53718},{"d":666,"o":53690,"h":53690,"l":53180,"c":53234},{"d":667,"o":53234,"h":53260,"l":52990,"c":53073},{"d":668,"o":53073,"h":53130,"l":52720,"c":52804},{"d":669,"o":52804,"h":52810,"l":52320,"c":52435}
]},
"layer":[
{"data":{"values":[{"d":0,"d2":669.6,"p":34690,"p2":54702}]},"mark":{"type":"rect","color":"#dde6fd"},
"encoding":{
"x":{"field":"d","type":"quantitative","scale":{"domain":[0,742],"nice":false,"zero":false},"axis":{"title":null,"domain":false,"ticks":false,"grid":false,"orient":"bottom","values":[14,56,100,123,145,166,189,210,231,274,294,316,338,359,382,403,426,448,490,532,554,576,597,619,642,663,685,707],"labelExpr":"{'14':'Mar','56':'Mayo','100':'Jul','123':'Ago','145':'Sep','166':'Oct','189':'Nov','210':'Dic','231':'2025','274':'Mar','294':'Abr','316':'Mayo','338':'Jun','359':'Jul','382':'Ago','403':'Sep','426':'Oct','448':'Nov','490':'2026','532':'Mar','554':'Abr','576':'Mayo','597':'Jun','619':'Jul','642':'Ago','663':'Sep','685':'Oct','707':'Nov'}[datum.value]","labelPadding":-24,"labelFont":"Inter","labelFontSize":17,"labelColor":"#b9bcc3","labelFontWeight":{"condition":{"test":"datum.value===231||datum.value===490","value":"bold"},"value":"normal"},"labelOverlap":false,"labelBound":false,"labelFlush":false,"labelBaseline":"top"}},
"x2":{"field":"d2"},
"y":{"field":"p","type":"quantitative","scale":{"domain":[34141,56963.5],"nice":false,"zero":false},"axis":{"title":null,"domain":false,"ticks":false,"grid":false,"orient":"right","values":[35000,36000,37000,38000,39000,40000,41000,42000,43000,44000,45000,46000,47000,48000,49000,50000,51000,52000,53000,54000,55000,56000],"labelExpr":"replace(replace(replace(format(datum.value,',.2f'),',','#'),'.',','),'#','.')","labelPadding":-10,"labelAlign":"right","labelFont":"Inter","labelFontSize":17,"labelColor":"#bfc1c7","labelFontWeight":{"condition":{"test":"datum.value%5000===0","value":"bold"},"value":"normal"},"labelOverlap":false,"labelBound":false,"labelFlush":false}},
"y2":{"field":"p2"}}},
{"data":{"values":[{"d":622.9,"d2":669.6,"p":51570,"p2":53350.06}]},"mark":{"type":"rect","color":"#2962ff","opacity":0.15},
"encoding":{"x":{"field":"d","type":"quantitative","scale":{"domain":[0,742],"nice":false,"zero":false},"axis":null},"x2":{"field":"d2"},"y":{"field":"p","type":"quantitative","scale":{"domain":[34141,56963.5],"nice":false,"zero":false},"axis":null},"y2":{"field":"p2"}}},
{"data":{"values":[{"d":652.2,"p":54153}]},"mark":{"type":"point","shape":"circle","filled":true,"color":"#2962ff","opacity":0.13,"size":7800},
"encoding":{"x":{"field":"d","type":"quantitative","scale":{"domain":[0,742],"nice":false,"zero":false},"axis":null},"y":{"field":"p","type":"quantitative","scale":{"domain":[34141,56963.5],"nice":false,"zero":false},"axis":null}}},
{"data":{"values":[{"d":0,"d2":333.6,"p":53350.06},{"d":375.4,"d2":710.7,"p":53350.06},{"d":0,"d2":338,"p":49605.21},{"d":371.6,"d2":710.7,"p":49605.21},{"d":622.9,"d2":669.6,"p":51570}]},"mark":{"type":"rule","color":"#2962ff","opacity":0.3,"strokeWidth":3},
"encoding":{"x":{"field":"d","type":"quantitative","scale":{"domain":[0,742],"nice":false,"zero":false},"axis":null},"x2":{"field":"d2"},"y":{"field":"p","type":"quantitative","scale":{"domain":[34141,56963.5],"nice":false,"zero":false},"axis":null}}},
{"data":{"values":[{"d":0,"d2":694.8,"p":52434.98}]},"mark":{"type":"rule","color":"#555a66","strokeWidth":1,"strokeDash":[1,3]},
"encoding":{"x":{"field":"d","type":"quantitative","scale":{"domain":[0,742],"nice":false,"zero":false},"axis":null},"x2":{"field":"d2"},"y":{"field":"p","type":"quantitative","scale":{"domain":[34141,56963.5],"nice":false,"zero":false},"axis":null}}},
{"data":{"name":"bars"},"mark":{"type":"rule","color":"#15181f","strokeWidth":1},
"encoding":{"x":{"field":"d","type":"quantitative","scale":{"domain":[0,742],"nice":false,"zero":false},"axis":null},"y":{"field":"l","type":"quantitative","scale":{"domain":[34141,56963.5],"nice":false,"zero":false},"axis":null},"y2":{"field":"h"}}},
{"data":{"name":"bars"},"mark":{"type":"tick","orient":"horizontal","color":"#15181f","size":1.6,"thickness":1,"xOffset":-0.8},
"encoding":{"x":{"field":"d","type":"quantitative","scale":{"domain":[0,742],"nice":false,"zero":false},"axis":null},"y":{"field":"o","type":"quantitative","scale":{"domain":[34141,56963.5],"nice":false,"zero":false},"axis":null}}},
{"data":{"name":"bars"},"mark":{"type":"tick","orient":"horizontal","color":"#15181f","size":1.6,"thickness":1,"xOffset":0.8},
"encoding":{"x":{"field":"d","type":"quantitative","scale":{"domain":[0,742],"nice":false,"zero":false},"axis":null},"y":{"field":"c","type":"quantitative","scale":{"domain":[34141,56963.5],"nice":false,"zero":false},"axis":null}}},
{"data":{"values":[{"d":710.7,"d2":742,"p":34141,"p2":34737}]},"mark":{"type":"rect","color":"white"},
"encoding":{"x":{"field":"d","type":"quantitative","scale":{"domain":[0,742],"nice":false,"zero":false},"axis":null},"x2":{"field":"d2"},"y":{"field":"p","type":"quantitative","scale":{"domain":[34141,56963.5],"nice":false,"zero":false},"axis":null},"y2":{"field":"p2"}}},
{"data":{"values":[{"d":710.7,"d2":742,"p":34737}]},"mark":{"type":"rule","color":"#3a3d45","strokeWidth":1.5},
"encoding":{"x":{"field":"d","type":"quantitative","scale":{"domain":[0,742],"nice":false,"zero":false},"axis":null},"x2":{"field":"d2"},"y":{"field":"p","type":"quantitative","scale":{"domain":[34141,56963.5],"nice":false,"zero":false},"axis":null}}},
{"data":{"values":[{"d":711,"d2":740.6,"p":53157,"p2":53544},{"d":711,"d2":740.6,"p":49415,"p2":49819}]},"mark":{"type":"rect","color":"#2962ff","cornerRadius":3},
"encoding":{"x":{"field":"d","type":"quantitative","scale":{"domain":[0,742],"nice":false,"zero":false},"axis":null},"x2":{"field":"d2"},"y":{"field":"p","type":"quantitative","scale":{"domain":[34141,56963.5],"nice":false,"zero":false},"axis":null},"y2":{"field":"p2"}}},
{"data":{"values":[{"d":694.8,"d2":710.6,"p":52238,"p2":52657},{"d":711,"d2":740.6,"p":52238,"p2":52657}]},"mark":{"type":"rect","color":"#000000","cornerRadius":3},
"encoding":{"x":{"field":"d","type":"quantitative","scale":{"domain":[0,742],"nice":false,"zero":false},"axis":null},"x2":{"field":"d2"},"y":{"field":"p","type":"quantitative","scale":{"domain":[34141,56963.5],"nice":false,"zero":false},"axis":null},"y2":{"field":"p2"}}},
{"data":{"values":[{"d":726,"p":53383,"t":"53.350,06"},{"d":726,"p":49630,"t":"49.605,21"},{"d":726,"p":52447,"t":"52.434,98"},{"d":702.5,"p":52447,"t":"US30"}]},"mark":{"type":"text","color":"white","font":"Inter","fontSize":17,"align":"center","baseline":"middle"},
"encoding":{"x":{"field":"d","type":"quantitative","scale":{"domain":[0,742],"nice":false,"zero":false},"axis":null},"y":{"field":"p","type":"quantitative","scale":{"domain":[34141,56963.5],"nice":false,"zero":false},"axis":null},"text":{"field":"t"}}},
{"data":{"values":[{"d":354.5,"p":53350,"t":"RESISTENCIA"},{"d":354.7,"p":49605,"t":"SOPORTE"},{"d":658.8,"p":55170,"t":"TRAMPA ALCISTA"},{"d":598.6,"p":53992,"t":"RANGO LATERAL"}]},"mark":{"type":"text","color":"#2a4478","font":"Inter","fontSize":19.4,"fontWeight":"bold","align":"center","baseline":"middle"},
"encoding":{"x":{"field":"d","type":"quantitative","scale":{"domain":[0,742],"nice":false,"zero":false},"axis":null},"y":{"field":"p","type":"quantitative","scale":{"domain":[34141,56963.5],"nice":false,"zero":false},"axis":null},"text":{"field":"t"}}},
{"data":{"values":[{"d":0.3,"p":55573,"t":"ENDENCIA ALCISTA"}]},"mark":{"type":"text","color":"#2a4478","font":"Inter","fontSize":19.4,"fontWeight":"bold","align":"left","baseline":"middle"},
"encoding":{"x":{"field":"d","type":"quantitative","scale":{"domain":[0,742],"nice":false,"zero":false},"axis":null},"y":{"field":"p","type":"quantitative","scale":{"domain":[34141,56963.5],"nice":false,"zero":false},"axis":null},"text":{"field":"t"}}},
{"data":{"values":[{"d":1.74,"p":56653,"t":"US30 · Índice Dow Jones Industrial Average · 1D · FXCM"}]},"mark":{"type":"text","color":"#b4b7be","font":"Inter","fontSize":16.4,"align":"left","baseline":"middle"},
"encoding":{"x":{"field":"d","type":"quantitative","scale":{"domain":[0,742],"nice":false,"zero":false},"axis":null},"y":{"field":"p","type":"quantitative","scale":{"domain":[34141,56963.5],"nice":false,"zero":false},"axis":null},"text":{"field":"t"}}}
]
}
